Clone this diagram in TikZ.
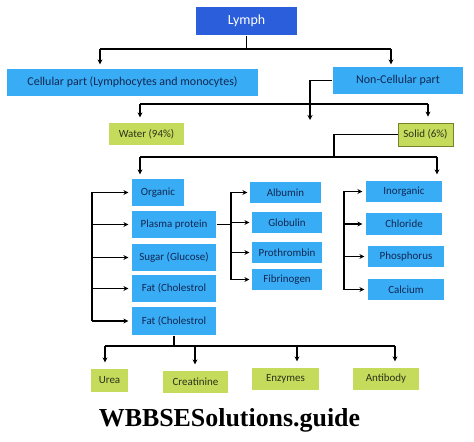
\documentclass[tikz,border=0pt]{standalone}
\usepackage{fontspec}
\setmainfont{Carlito}
\newfontfamily\wmfont{Liberation Serif}
\usepackage{xcolor}
\usetikzlibrary{arrows.meta}
\definecolor{LymphBlue}{RGB}{43,94,218}
\definecolor{SkyBox}{RGB}{56,172,245}
\definecolor{LimeBox}{RGB}{197,219,92}
\definecolor{LimeEdge}{RGB}{120,130,40}
\definecolor{NavyText}{RGB}{18,40,82}
\definecolor{OliveText}{RGB}{45,50,25}

\tikzset{
  topbox/.style={fill=LymphBlue,text=white,minimum width=101bp,minimum height=28bp,
    inner sep=0pt,font=\fontsize{14}{16}\selectfont},
  partbox/.style={fill=SkyBox,text=NavyText,minimum height=27bp,inner sep=0pt,
    font=\fontsize{12}{14}\selectfont},
  itembox/.style={fill=SkyBox,text=NavyText,minimum height=21bp,inner sep=0pt,
    font=\fontsize{11}{13}\selectfont},
  limebox/.style={fill=LimeBox,text=OliveText,minimum height=22bp,inner sep=0pt,
    font=\fontsize{11}{13}\selectfont},
  arr/.style={-{Stealth[length=5bp,width=5bp]}},
}

\begin{document}
\begin{tikzpicture}[x=1bp,y=-1bp,line width=1.2bp]
  \useasboundingbox (0,0) rectangle (474,442);

  % top levels
  \node[topbox] (lymph) at (246.5,21) {Lymph};
  \node[partbox,minimum width=251bp] (cell) at (132.5,82.5) {Cellular part (Lymphocytes and monocytes)};
  \node[partbox,minimum width=130bp] (noncell) at (398,80.5) {Non-Cellular part};
  \node[limebox,minimum width=75bp] (water) at (146.5,134) {Water (94\%)};
  \node[limebox,minimum width=55bp,minimum height=23bp,draw=LimeEdge,line width=0.8bp] (solid) at (425.5,134.5) {Solid (6\%)};

  % organic column
  \node[itembox,minimum width=52bp,minimum height=27bp] (organic) at (158,192.5) {Organic};
  \node[itembox,minimum width=84bp,minimum height=27bp] (plasma) at (174,224.5) {Plasma protein};
  \node[itembox,minimum width=84bp,minimum height=27bp] (sugar) at (174,257.5) {Sugar (Glucose)};
  \node[itembox,minimum width=84bp,minimum height=27bp] (fatA) at (174,288.5) {Fat (Cholestrol};
  \node[itembox,minimum width=84bp,minimum height=28bp] (fatB) at (174,321) {Fat (Cholestrol};

  % plasma proteins
  \node[itembox,minimum width=71bp] (albumin) at (285.5,192.5) {Albumin};
  \node[itembox,minimum width=70bp] (globulin) at (287,222.5) {Globulin};
  \node[itembox,minimum width=70bp] (prothrombin) at (287,252.5) {Prothrombin};
  \node[itembox,minimum width=70bp] (fibrinogen) at (287,279.5) {Fibrinogen};

  % inorganic column
  \node[itembox,minimum width=76bp] (inorganic) at (404,191.5) {Inorganic};
  \node[itembox,minimum width=76bp,minimum height=22bp] (chloride) at (404,224) {Chloride};
  \node[itembox,minimum width=76bp] (phosphorus) at (406,256.5) {Phosphorus};
  \node[itembox,minimum width=76bp] (calcium) at (406,289.5) {Calcium};

  % bottom row
  \node[limebox,minimum width=37bp,minimum height=23bp] (urea) at (109.5,380.5) {Urea};
  \node[limebox,minimum width=65bp] (creatinine) at (195.5,382) {Creatinine};
  \node[limebox,minimum width=67bp] (enzymes) at (285.5,379) {Enzymes};
  \node[limebox,minimum width=66bp] (antibody) at (386,379) {Antibody};

  \node[font=\wmfont\bfseries\fontsize{26}{30}\selectfont] (mark) at (229.5,420) {WBBSESolutions.guide};

  % lymph -> parts
  \coordinate (cl) at (100,49);
  \coordinate (cr) at (391,49);
  \draw (cl) -- (cr);
  \draw (lymph.south) -- (lymph.south |- cl);
  \draw[arr,shorten >=4bp] (cl) -- (cl |- cell.north);
  \draw[arr,shorten >=2bp] (cr) -- (cr |- noncell.north);

  % non-cellular -> water, solid
  \coordinate (nd) at (310,120);
  \draw[arr] (noncell.west) -| (nd);
  \coordinate (wl) at (140,104);
  \coordinate (wr) at (428,104);
  \draw (wl) -- (wr);
  \draw[arr,shorten >=5bp] (wl) -- (wl |- water.north);
  \draw[arr,shorten >=6bp] (wr) -- (wr |- solid.north);

  % solid -> organic, inorganic
  \coordinate (ol) at (140,157);
  \coordinate (or) at (437,157);
  \draw (solid.west) -| (334,157);
  \draw (ol) -- (or);
  \draw[arr,shorten >=4bp] (ol) -- (ol |- organic.north);
  \draw[arr,shorten >=6bp] (or) -- (or |- inorganic.north);

  % left bracket
  \coordinate (lb) at (92,0);
  \draw (lb |- organic.west) -- (lb |- fatB.west);
  \foreach \n in {organic,plasma,sugar,fatA,fatB}
    \draw[arr,shorten >=3bp] (lb |- \n.west) -- (\n.west);

  % plasma protein bracket
  \coordinate (pb) at (231,0);
  \draw (plasma.east) -- (pb |- plasma.east);
  \draw (pb |- albumin.west) -- (pb |- fibrinogen.west);
  \foreach \n in {albumin,globulin,prothrombin,fibrinogen}
    \draw[arr,shorten >=2bp] (pb |- \n.west) -- (\n.west);

  % inorganic bracket
  \coordinate (ib) at (344,0);
  \draw (ib |- inorganic.west) -- (ib |- calcium.west);
  \foreach \n in {inorganic,chloride,phosphorus,calcium}
    \draw[arr,shorten >=3bp] (ib |- \n.west) -- (\n.west);

  % fat -> bottom row
  \coordinate (bl) at (105,346);
  \coordinate (br) at (395,346);
  \draw (fatB.south) -- (fatB.south |- bl);
  \draw (bl) -- (br);
  \foreach \x/\n in {105/urea,195/creatinine,297/enzymes,395/antibody}
    \draw[arr,shorten >=6bp] (\x,346) -- (\x,346 |- \n.north);
\end{tikzpicture}
\end{document}
